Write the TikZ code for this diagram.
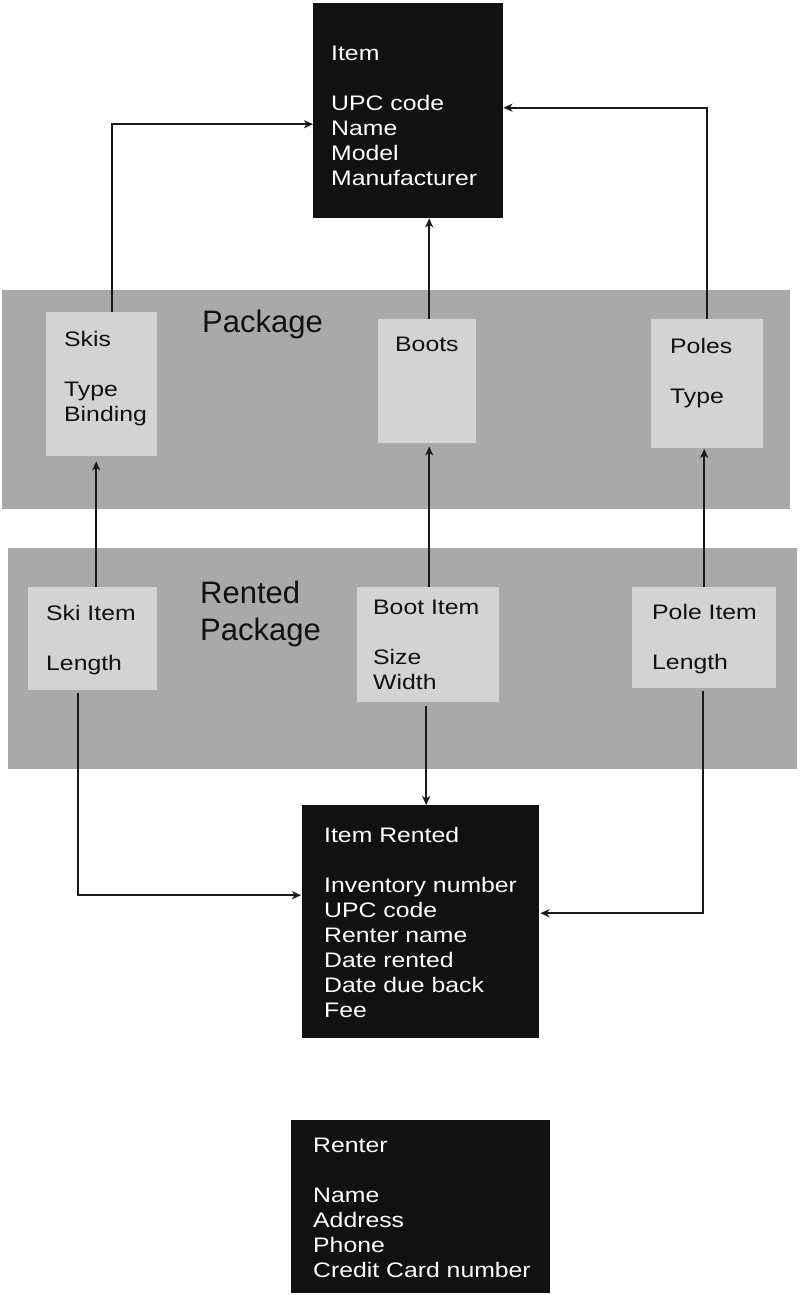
\documentclass[tikz,border=0pt]{standalone}
\usepackage{fontspec}
\usetikzlibrary{arrows.meta}
\newfontfamily\bxfont[FakeStretch=1.18]{Liberation Sans}
\newfontfamily\lblfont{Liberation Sans}
\definecolor{boxblack}{HTML}{111111}
\definecolor{bandgray}{HTML}{A9A9A9}
\definecolor{lightgray}{HTML}{D3D3D3}
\definecolor{linecol}{HTML}{1A1A1A}
% W H L T lines
\newcommand\bxt[5]{\parbox[c][#2pt][t]{#1pt}{\vspace*{#4pt}\hspace*{#3pt}\begin{tabular}[t]{@{}l@{}}#5\end{tabular}}}
\tikzset{
  darkbox/.style={draw=none, fill=boxblack, text=white, inner sep=0pt, anchor=north west,
    font=\bxfont\fontsize{21}{25}\selectfont},
  lightbox/.style={draw=none, fill=lightgray, text=boxblack, inner sep=0pt, anchor=north west,
    font=\bxfont\fontsize{21}{25}\selectfont},
  band/.style={draw=none, fill=bandgray, inner sep=0pt, anchor=north west},
  bandlbl/.style={inner sep=0pt, anchor=base west, text=boxblack,
    font=\lblfont\fontsize{31}{37}\selectfont},
  conn/.style={draw=linecol, line width=1.8pt, -{Stealth[length=9pt,width=8pt,inset=2.5pt]}},
}
\begin{document}
\begin{tikzpicture}[x=1pt,y=-1pt]
\useasboundingbox[fill=white] (0,0) rectangle (800,1295);

% bands
\node[band, minimum width=788pt, minimum height=219pt] (pkg) at (2,290) {};
\node[band, minimum width=789pt, minimum height=221pt] (rpkg) at (8,548) {};
\node[bandlbl] (pkgl) at (202,332) {Package};
\node[bandlbl] (rpkgl) at (200,603) {\begin{tabular}[t]{@{}l@{}}Rented\\Package\end{tabular}};

% black boxes
\node[darkbox] (item) at (313,3)
  {\bxt{190}{215}{18}{39.5}{Item\\ \\UPC code\\Name\\Model\\Manufacturer}};
\node[darkbox] (rented) at (302,805)
  {\bxt{237}{233}{22}{19.5}{Item Rented\\ \\Inventory number\\UPC code\\Renter name\\Date rented\\Date due back\\Fee}};
\node[darkbox] (renter) at (291,1120)
  {\bxt{259}{173}{22}{14.5}{Renter\\ \\Name\\Address\\Phone\\Credit Card number}};

% light boxes (Package)
\node[lightbox] (skis) at (46,312)
  {\bxt{111}{144}{18}{16.5}{Skis\\ \\Type\\Binding}};
\node[lightbox] (boots) at (378,319)
  {\bxt{98}{124}{17}{14.5}{Boots}};
\node[lightbox] (poles) at (651,319)
  {\bxt{112}{129}{19}{16.5}{Poles\\ \\Type}};

% light boxes (Rented Package)
\node[lightbox] (skiitem) at (28,587)
  {\bxt{129}{103}{18}{15.5}{Ski Item\\ \\Length}};
\node[lightbox] (bootitem) at (357,587)
  {\bxt{142}{115}{16}{9.5}{Boot Item\\ \\Size\\Width}};
\node[lightbox] (poleitem) at (632,587)
  {\bxt{144}{101}{20}{14.5}{Pole Item\\ \\Length}};

% connectors to Item
\draw[conn] ([xshift=10.5pt]skis.north) |- ([yshift=-13.5pt]item.west);
\draw[conn] ([xshift=2pt]boots.north) -- ([xshift=2pt]boots.north |- item.south);
\draw[conn] (poles.north) |- ([yshift=3pt]item.east);

% connectors to Package boxes
\draw[conn, shorten >=5pt] ([xshift=3.5pt]skiitem.north) -- ([xshift=3.5pt]skiitem.north |- skis.south);
\draw[conn, shorten >=3pt] ([xshift=1pt]bootitem.north) -- ([xshift=1pt]bootitem.north |- boots.south);
\draw[conn, shorten >=0.5pt] (poleitem.north) -- (poleitem.north |- poles.south);

% connectors to Item Rented
\draw[conn, shorten <=3pt, shorten >=1pt] ([xshift=-14.5pt]skiitem.south) |- ([yshift=26.5pt]rented.west);
\draw[conn, shorten <=4pt] ([xshift=-2pt]bootitem.south) -- ([xshift=-2pt]bootitem.south |- rented.north);
\draw[conn, shorten <=3pt, shorten >=1pt] ([xshift=-1pt]poleitem.south) |- ([yshift=8.5pt]rented.east);
\end{tikzpicture}
\end{document}
